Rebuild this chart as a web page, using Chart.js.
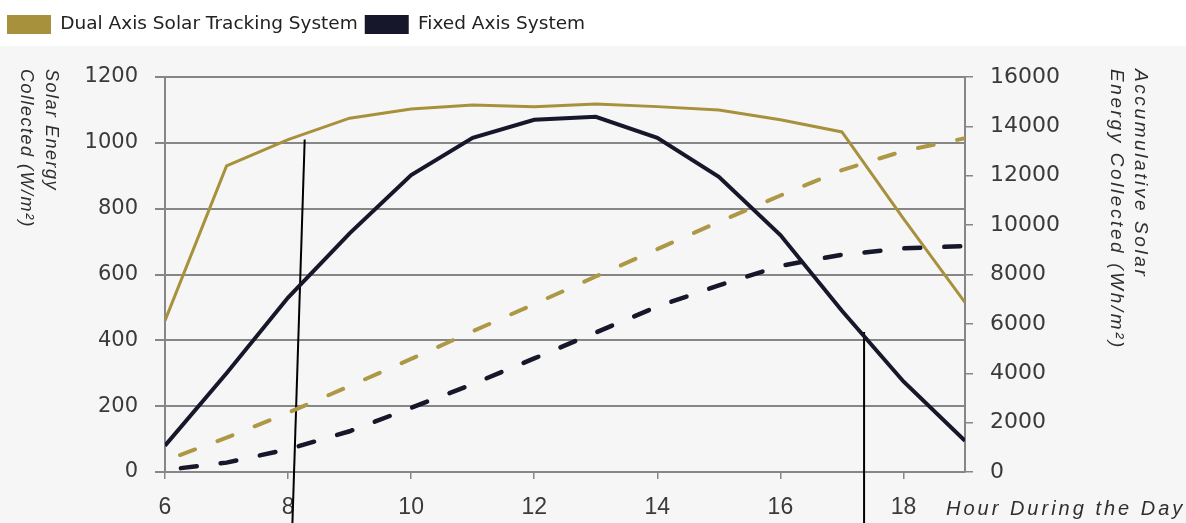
<!DOCTYPE html>
<html>
<head>
<meta charset="utf-8">
<script src="https://cdn.jsdelivr.net/npm/chart.js"></script>
<style>
  html, body { margin: 0; padding: 0; background: #ffffff; }
  #wrap { position: relative; width: 1186px; height: 523px; }
</style>
</head>
<body>
<div id="wrap"><canvas id="myChart"></canvas></div>
<script>
// hours of the day (x values)
const hours = [6, 7, 8, 9, 10, 11, 12, 13, 14, 15, 16, 17, 18, 19];

// solar energy collected, W/m2 (left axis)
const dualPower  = [460, 930, 1010, 1075, 1103, 1115, 1110, 1118, 1110, 1100, 1070, 1033, 770, 515];
const fixedPower = [80, 300, 530, 725, 902, 1015, 1070, 1079, 1015, 897, 720, 490, 275, 95];

// accumulative solar energy, Wh/m2 (right axis)
const dualTotal  = [460, 1390, 2400, 3480, 4580, 5700, 6800, 7920, 9030, 10130, 11200, 12230, 13000, 13520];
const fixedTotal = [80, 380, 920, 1650, 2600, 3560, 4600, 5650, 6700, 7560, 8350, 8800, 9060, 9150];

// the two hand drawn marker lines (hour, W/m2)
const markerOne = [[8.27, 1010], [8.07, -160]];
const markerTwo = [[17.36, 425], [17.36, -160]];

const seriesNames = ["Dual Axis Solar Tracking System", "Fixed Axis System"];
const leftTitle = ["Solar Energy", "Collected (W/m²)"];
const rightTitle = ["Accumulative Solar", "Energy Collected (Wh/m²)"];
const xTitle = "Hour During the Day";

const gold = "#a8913c";
const goldDash = "#ad9845";
const navy = "#17172b";
const gridGrey = "#868686";
const tickText = "#3a3a3a";

function pairs(ys) {
    return hours.map((h, i) => ({ x: h, y: ys[i] }));
}
function marker(pts) {
    return pts.map(p => ({ x: p[0], y: p[1] }));
}
// plain numbers, no thousands separator
const plain = v => String(v);

function drawVertical(ctx, lines, x, y, gap) {
    lines.forEach((line, i) => {
        ctx.save();
        ctx.translate(x - i * gap, y);
        ctx.rotate(Math.PI / 2);
        ctx.fillText(line, 0, 0);
        ctx.restore();
    });
}

const paperPlugin = {
    id: "paper",
    beforeDraw(chart) {
        const { ctx, width, height } = chart;
        ctx.save();
        ctx.fillStyle = "#ffffff";
        ctx.fillRect(0, 0, width, height);
        ctx.fillStyle = "#f6f6f6";
        ctx.fillRect(0, 46, width, height - 46);
        ctx.restore();
    },
    afterDraw(chart) {
        const { ctx, chartArea, scales } = chart;
        ctx.save();
        ctx.fillStyle = "#2e2e2e";
        ctx.textBaseline = "middle";
        ctx.textAlign = "left";
        ctx.font = "italic 18px 'Liberation Sans', Arial, sans-serif";
        ctx.letterSpacing = "1.5px";
        drawVertical(ctx, leftTitle, 51, chartArea.top - 8, 25);
        ctx.font = "italic 19px 'Liberation Sans', Arial, sans-serif";
        ctx.letterSpacing = "2.6px";
        drawVertical(ctx, rightTitle, 1140, chartArea.top - 8, 24);
        ctx.font = "italic 20px 'Liberation Sans', Arial, sans-serif";
        ctx.letterSpacing = "3px";
        ctx.fillText(xTitle, scales.x.right - 19, scales.x.top + 37);
        ctx.restore();
    }
};

const ctx = document.getElementById("myChart").getContext("2d");
const myChart = new Chart(ctx, {
    type: "line",
    data: {
        datasets: [
            {
                label: seriesNames[0],
                data: pairs(dualPower),
                yAxisID: "y",
                borderColor: gold,
                backgroundColor: gold,
                borderWidth: 3
            },
            {
                label: seriesNames[1],
                data: pairs(fixedPower),
                yAxisID: "y",
                borderColor: navy,
                backgroundColor: navy,
                borderWidth: 4
            },
            {
                label: "dual total",
                data: pairs(dualTotal),
                yAxisID: "y2",
                borderColor: goldDash,
                backgroundColor: goldDash,
                borderWidth: 4,
                borderDash: [16, 24],
                borderDashOffset: 24,
                borderCapStyle: "round"
            },
            {
                label: "fixed total",
                data: pairs(fixedTotal),
                yAxisID: "y2",
                borderColor: navy,
                backgroundColor: navy,
                borderWidth: 4.5,
                borderDash: [16, 24],
                borderDashOffset: 24,
                borderCapStyle: "round"
            },
            {
                label: "marker a",
                data: marker(markerOne),
                yAxisID: "y",
                borderColor: "#000000",
                borderWidth: 2,
                clip: false
            },
            {
                label: "marker b",
                data: marker(markerTwo),
                yAxisID: "y",
                borderColor: "#000000",
                borderWidth: 2,
                clip: false
            }
        ]
    },
    options: {
        responsive: true,
        maintainAspectRatio: false,
        animation: false,
        elements: {
            point: { radius: 0, hoverRadius: 0 },
            line: { tension: 0 }
        },
        layout: { padding: { top: 8, left: 0, right: 0, bottom: 0 } },
        plugins: {
            tooltip: { enabled: false },
            legend: {
                position: "top",
                align: "start",
                labels: {
                    boxWidth: 44,
                    boxHeight: 19,
                    padding: 7,
                    color: "#222222",
                    font: { family: "'DejaVu Sans', sans-serif", size: 18.5 },
                    filter: item => item.datasetIndex < 2,
                    generateLabels: chart => Chart.defaults.plugins.legend.labels
                        .generateLabels(chart)
                        .map(item => Object.assign(item, { lineWidth: 0 }))
                }
            },
            subtitle: {
                display: true,
                text: "",
                weight: 100,
                font: { size: 1, lineHeight: 1 },
                padding: { top: 32, bottom: 0 }
            }
        },
        scales: {
            x: {
                type: "linear",
                min: 6,
                max: 19,
                afterFit: s => { s.height = 51; },
                border: { color: gridGrey, width: 2 },
                grid: { drawOnChartArea: false, color: gridGrey, lineWidth: 1.5, tickLength: 7 },
                ticks: {
                    stepSize: 2,
                    includeBounds: false,
                    autoSkip: false,
                    maxRotation: 0,
                    padding: 15,
                    color: tickText,
                    callback: plain,
                    font: { family: "'Liberation Sans', Arial, sans-serif", size: 23 }
                }
            },
            y: {
                position: "left",
                min: 0,
                max: 1200,
                afterFit: s => { s.width = 165; },
                border: { color: gridGrey, width: 2 },
                grid: { color: gridGrey, lineWidth: 2, tickLength: 10 },
                ticks: {
                    stepSize: 200,
                    padding: 17,
                    color: tickText,
                    callback: plain,
                    font: { family: "'DejaVu Sans', sans-serif", size: 21 }
                }
            },
            y2: {
                position: "right",
                min: 0,
                max: 16000,
                afterFit: s => { s.width = 221; },
                border: { color: gridGrey, width: 2 },
                grid: { drawOnChartArea: false, color: gridGrey, lineWidth: 1.5, tickLength: 8 },
                ticks: {
                    stepSize: 2000,
                    padding: 17,
                    color: tickText,
                    callback: plain,
                    font: { family: "'DejaVu Sans', sans-serif", size: 22 }
                }
            }
        }
    },
    plugins: [paperPlugin]
});
</script>
</body>
</html>
